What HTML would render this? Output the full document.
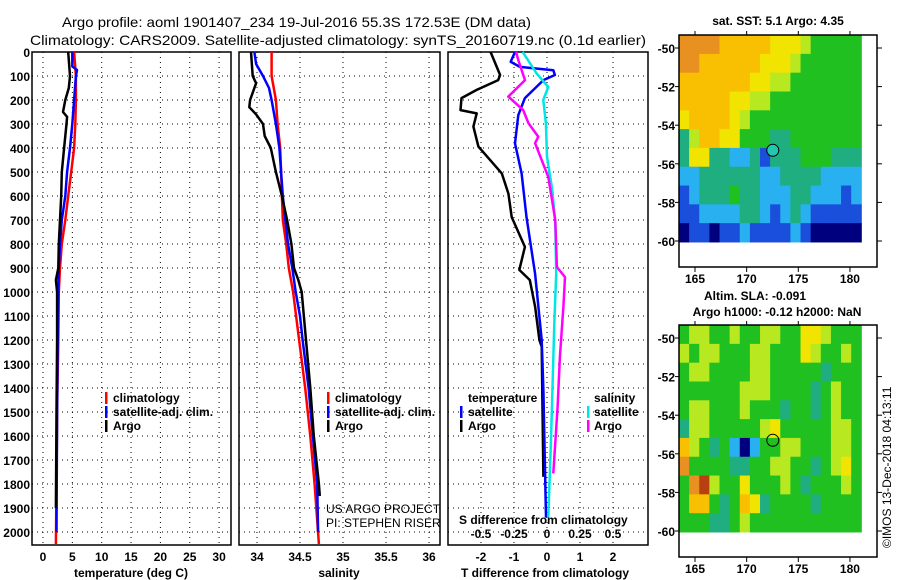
<!DOCTYPE html>
<html><head><meta charset="utf-8"><style>
html,body{margin:0;padding:0;background:#fff;}
svg{display:block;font-family:"Liberation Sans",sans-serif;}
.t{font-size:12px;font-weight:bold;fill:#000;}
</style></head><body>
<svg id="c" width="900" height="580" viewBox="0 0 900 580" xmlns="http://www.w3.org/2000/svg">
<rect width="900" height="580" fill="#fff"/>
<text x="62" y="27" font-size="14" textLength="469" lengthAdjust="spacingAndGlyphs">Argo profile: aoml 1901407_234 19-Jul-2016 55.3S 172.53E (DM data)</text>
<text x="30" y="45" font-size="14" textLength="616" lengthAdjust="spacingAndGlyphs">Climatology: CARS2009. Satellite-adjusted climatology: synTS_20160719.nc (0.1d earlier)</text>
<g id="g"></g>
</svg>
<script>
// ---- data ----
const tempTicks=[0,5,10,15,20,25,30];
const salTicks=[34,34.5,35,35.5,36];
const tdTicks=[-2,-1,0,1,2];
const sdTicks=[-0.5,-0.25,0,0.25,0.5];
const sdTickLabels=["-0.5","-0.25","0","0.25","0.5"];
const depthTicks=[0,100,200,300,400,500,600,700,800,900,1000,1100,1200,1300,1400,1500,1600,1700,1800,1900,2000];

const climDepth=[0,100,200,300,400,500,600,700,800,900,1000,1200,1500,1800,2050];
const climTemp=[5.3,5.6,5.6,5.5,5.3,4.8,4.3,3.8,3.2,2.9,2.7,2.6,2.4,2.3,2.2];
const satDepth=[0,60,75,100,200,300,400,500,600,700,800,900,1000,1200,1500,2000];
const satTemp=[5.0,5.0,5.8,5.6,5.3,5.0,4.6,4.1,3.8,3.2,2.9,2.7,2.6,2.5,2.4,2.3];
const argoDepth=[0,100,150,200,250,270,300,350,400,500,600,700,800,900,950,1000,1200,1500,1900];
const argoTemp=[4.3,4.6,4.4,3.8,3.4,4.1,4.0,3.8,3.6,3.2,3.1,2.9,2.7,2.6,2.2,2.4,2.4,2.3,2.2];

const climSalDepth=[0,100,200,300,400,500,600,700,800,900,1000,1200,1400,1600,1800,2050];
const climSal=[34.17,34.17,34.22,34.24,34.27,34.28,34.29,34.30,34.34,34.37,34.42,34.49,34.56,34.62,34.67,34.72];
const satSalDepth=[0,50,100,150,200,300,400,500,600,700,800,900,1000,1100,1200,1400,1600,1800,2000];
const satSal=[33.97,33.99,34.07,34.14,34.17,34.22,34.26,34.28,34.30,34.33,34.36,34.41,34.45,34.50,34.53,34.60,34.65,34.70,34.71];
const argoSalDepth=[0,100,130,200,230,260,300,350,400,500,600,700,800,900,950,1000,1200,1400,1600,1800,1850];
const argoSal=[33.93,33.95,33.99,33.92,33.91,33.99,34.07,34.09,34.16,34.22,34.29,34.35,34.40,34.43,34.48,34.52,34.57,34.62,34.66,34.72,34.73];

const tdArgoDepth=[0,96,117,158,192,242,256,311,394,506,590,688,812,908,950,1061,1200,1228,1770];
const tdArgo=[-1.71,-1.42,-1.48,-2.13,-2.59,-2.62,-2.13,-2.23,-2.08,-1.37,-1.17,-1.07,-0.67,-0.84,-0.52,-0.36,-0.23,-0.16,-0.11];
const tdSatDepth=[0,41,62,76,96,117,192,263,381,506,688,924,1200,1410,1940];
const tdSat=[-0.97,-1.1,-0.82,0.19,0.24,-0.11,-0.67,-0.87,-0.97,-0.77,-0.62,-0.36,-0.16,-0.11,-0.03];
const sdSatDepth=[0,90,146,200,297,436,576,715,924,1131,1340,1618,1940];
const sdSat=[-0.184,-0.078,0.01,-0.028,-0.008,0,0.04,0.063,0.07,0.055,0.045,0.03,0.01];
const sdArgoDepth=[0,35,117,186,242,297,353,380,521,701,896,938,1061,1270,1479,1756];
const sdArgo=[-0.235,-0.217,-0.167,-0.293,-0.18,-0.14,-0.066,-0.09,0.01,0.063,0.075,0.136,0.124,0.098,0.08,0.048];

const lonTicks=[165,170,175,180];
const latTicks=[-50,-52,-54,-56,-58,-60];
const sstGrid=[
[8,8,8,8,7,7,7,7,7,6,6,6,5,4,4,4,4,4],
[8,8,7,7,7,7,7,7,6,6,6,5,4,4,4,4,4,4],
[7,7,7,7,7,7,7,6,6,5,5,4,4,4,4,4,4,4],
[7,7,7,7,7,6,6,5,5,4,4,4,4,4,4,4,4,4],
[6,7,7,7,7,6,5,4,4,4,4,4,4,4,4,4,4,4],
[3,5,7,7,6,6,4,4,4,3,3,4,4,4,4,4,4,4],
[3,6,6,3,3,2,2,3,1,3,3,3,4,4,4,3,3,3],
[2,2,3,3,3,3,3,3,2,2,3,3,3,3,2,2,2,2],
[1,2,3,3,3,4,3,3,2,2,2,3,3,2,2,2,1,2],
[1,1,2,2,2,2,3,3,2,1,2,3,2,1,1,1,1,1],
[0,1,1,0,1,1,2,1,1,1,1,2,1,0,0,0,0,0]];
const slaGrid=[
[4,5,5,4,4,5,4,4,5,5,4,4,6,6,5,4,4,4],
[5,4,5,5,4,4,4,5,5,4,4,4,6,5,4,4,5,4],
[4,5,5,4,4,4,4,5,5,4,4,4,4,4,3,4,4,4],
[4,4,4,4,4,4,5,5,5,4,4,4,4,3,4,5,4,4],
[4,5,5,4,4,4,5,4,4,4,3,4,4,3,4,5,4,4],
[3,5,5,4,4,4,4,4,5,6,4,4,4,4,4,5,5,4],
[7,5,4,3,4,2,0,2,4,4,5,5,4,4,4,5,5,4],
[8,4,4,4,4,3,3,4,4,5,5,4,4,3,4,5,6,4],
[4,8,9,5,4,4,6,4,4,4,5,4,3,4,4,4,5,4],
[4,7,7,4,3,4,7,6,3,4,4,4,4,3,4,4,4,4],
[4,4,4,3,3,4,5,4,4,4,4,4,4,4,4,4,4,4]];
const argoLon=172.53, argoLat=-55.3;

// ---- drawing ----
const NS="http://www.w3.org/2000/svg";
const G=document.getElementById('g');
function mk(tag,attrs,parent){const e=document.createElementNS(NS,tag);for(const k in attrs)e.setAttribute(k,attrs[k]);(parent||G).appendChild(e);return e;}
const top0=52, bot=545;
const yD=d=>top0+d*0.24;
const panels=[
 {l:32,r:231,x:v=>43+v*5.87,name:'temperature-panel'},
 {l:239,r:440,x:v=>257+(v-34)*86,name:'salinity-panel'},
 {l:448,r:648,x:v=>547+v*33,name:'difference-panel'}];
const xS=v=>547+v*132;

panels.forEach((p,i)=>{
  const g=mk('g',{});
  
  
  const ticks=i==0?tempTicks:i==1?salTicks:tdTicks;
  depthTicks.forEach(d=>{const l=mk('line',{x1:p.l,x2:p.r,y1:yD(d),y2:yD(d),stroke:'#000','stroke-width':1,'stroke-dasharray':'1,4'},g);});
  ticks.forEach(v=>{const X=p.x(v);const l=mk('line',{x1:X,x2:X,y1:top0,y2:bot,stroke:'#000','stroke-width':1,'stroke-dasharray':'1,4'},g);
    const t=mk('text',{x:X,y:561,'text-anchor':'middle',class:'t'},g);t.textContent=String(v);});
  const f=mk('rect',{x:p.l,y:top0,width:p.r-p.l,height:bot-top0,fill:'none',stroke:'#000','stroke-width':1.5},g);
  
});
depthTicks.forEach(d=>{const t=mk('text',{x:30,y:yD(d)+5,'text-anchor':'end',class:'t'});t.textContent=String(d);});

function line(xs,ds,fx,color,name,w){
  const pts=xs.map((v,i)=>fx(v).toFixed(1)+','+yD(ds[i]).toFixed(1)).join(' ');
  const e=mk('polyline',{points:pts,fill:'none',stroke:color,'stroke-width':w||2.5,'stroke-linejoin':'round'});
  
}
const P=panels;
line(climTemp,climDepth,P[0].x,'#ff0000','temp-climatology-line');
line(satTemp,satDepth,P[0].x,'#0000ff','temp-satellite-line');
line(argoTemp,argoDepth,P[0].x,'#000','temp-argo-line');
line(climSal,climSalDepth,P[1].x,'#ff0000','sal-climatology-line');
line(satSal,satSalDepth,P[1].x,'#0000ff','sal-satellite-line');
line(argoSal,argoSalDepth,P[1].x,'#000','sal-argo-line');
line(tdArgo,tdArgoDepth,P[2].x,'#000','tdiff-argo-line');
line(tdSat,tdSatDepth,P[2].x,'#0000ff','tdiff-satellite-line');
line(sdSat,sdSatDepth,xS,'#00e5e5','sdiff-satellite-line');
line(sdArgo,sdArgoDepth,xS,'#ff00ff','sdiff-argo-line');

sdTicks.forEach((v,i)=>{const t=mk('text',{x:xS(v),y:538,'text-anchor':'middle',class:'t'});t.textContent=sdTickLabels[i];});

function txt(x,y,s,name,extra){const t=mk('text',Object.assign({x:x,y:y,class:'t'},extra||{}));t.textContent=s;return t;}
function bar(x,y,c){const r=mk('rect',{x:x,y:y-10,width:2.5,height:12,fill:c});}
[[105,'climatology','#ff0000'],[105,'satellite-adj. clim.','#0000ff'],[105,'Argo','#000']].forEach((a,i)=>{bar(a[0],402+i*14,a[2]);txt(a[0]+8,402+i*14,a[1],'temp-legend-entry');});
[[327,'climatology','#ff0000'],[327,'satellite-adj. clim.','#0000ff'],[327,'Argo','#000']].forEach((a,i)=>{bar(a[0],402+i*14,a[2]);txt(a[0]+8,402+i*14,a[1],'sal-legend-entry');});
txt(468,402,'temperature','diff-legend-temp-title');
bar(460,416,'#0000ff');txt(468,416,'satellite','diff-legend-entry');
bar(460,430,'#000');txt(468,430,'Argo','diff-legend-entry');
txt(594,402,'salinity','diff-legend-sal-title');
bar(587,416,'#00e5e5');txt(594,416,'satellite','diff-legend-entry');
bar(587,430,'#ff00ff');txt(594,430,'Argo','diff-legend-entry');
txt(459,524,'S difference from climatology','s-diff-axis-title');
txt(131,577,'temperature (deg C)','x-axis-title-temp',{'text-anchor':'middle'});
txt(339,577,'salinity','x-axis-title-sal',{'text-anchor':'middle'});
txt(545,577,'T difference from climatology','x-axis-title-tdiff',{'text-anchor':'middle'});
txt(326,513,'US ARGO PROJECT','project-label',{style:'font-weight:normal;font-size:12px'});
txt(326,527,'PI: STEPHEN RISER','pi-label',{style:'font-weight:normal;font-size:12px'});

// maps
const cmap=['#00007e','#1a4fdc','#29b0f0','#1fae80','#20c020','#b8e820','#f0e400','#f8c000','#e89020','#b84010'];
function map(grid,T,name){
  const L=679,R=877,B=T+232;
  const x=lon=>695+(lon-165)*10.33;
  const y=lat=>T+13+(-50-lat)*19.3;
  const g=mk('g',{});
  const rows=grid.length, cols=grid[0].length;
  const lonA=163.45, lonB=181.1, latA=-49.33, latB=-60.05;
  const dlon=(lonB-lonA)/cols, dlat=(latA-latB)/rows;
  grid.forEach((row,ri)=>row.forEach((v,ci)=>{
    const x0=x(lonA+ci*dlon), x1=x(lonA+(ci+1)*dlon), y0=y(latA-ri*dlat), y1=y(latA-(ri+1)*dlat);
    const c=mk('rect',{x:x0,y:y0,width:x1-x0+0.5,height:y1-y0+0.5,fill:cmap[v]},g);
    
  }));
  const f=mk('rect',{x:L,y:T,width:R-L,height:B-T,fill:'none',stroke:'#000','stroke-width':1.5},g);
  
  lonTicks.forEach(v=>{mk('line',{x1:x(v),x2:x(v),y1:B,y2:B+5,stroke:'#000'},g);mk('line',{x1:x(v),x2:x(v),y1:T,y2:T-4,stroke:'#000'},g);
    const t=mk('text',{x:x(v),y:B+16,'text-anchor':'middle',class:'t'},g);t.textContent=v;});
  latTicks.forEach(v=>{mk('line',{x1:R,x2:R+5,y1:y(v),y2:y(v),stroke:'#000'},g);mk('line',{x1:L,x2:L-4,y1:y(v),y2:y(v),stroke:'#000'},g);
    const t=mk('text',{x:675,y:y(v)+5,'text-anchor':'end',class:'t'},g);t.textContent=v;});
  const c=mk('circle',{cx:x(argoLon),cy:y(argoLat),r:6,fill:name=='sst-map'?'#20c8b0':'none',stroke:'#000','stroke-width':1},g);
  
}
map(sstGrid,35,'sst-map');
map(slaGrid,325,'sla-map');
txt(778,25,'sat. SST: 5.1 Argo: 4.35','sst-map-title',{'text-anchor':'middle'});
txt(755,300,'Altim. SLA: -0.091','sla-map-title',{'text-anchor':'middle'});
txt(777,316,'Argo h1000: -0.12 h2000: NaN','sla-map-subtitle',{'text-anchor':'middle'});
const cr=mk('text',{x:0,y:0,transform:'translate(891,548) rotate(-90)','font-size':12});
cr.textContent='©IMOS 13-Dec-2018 04:13:11';


</script>
</body></html>
